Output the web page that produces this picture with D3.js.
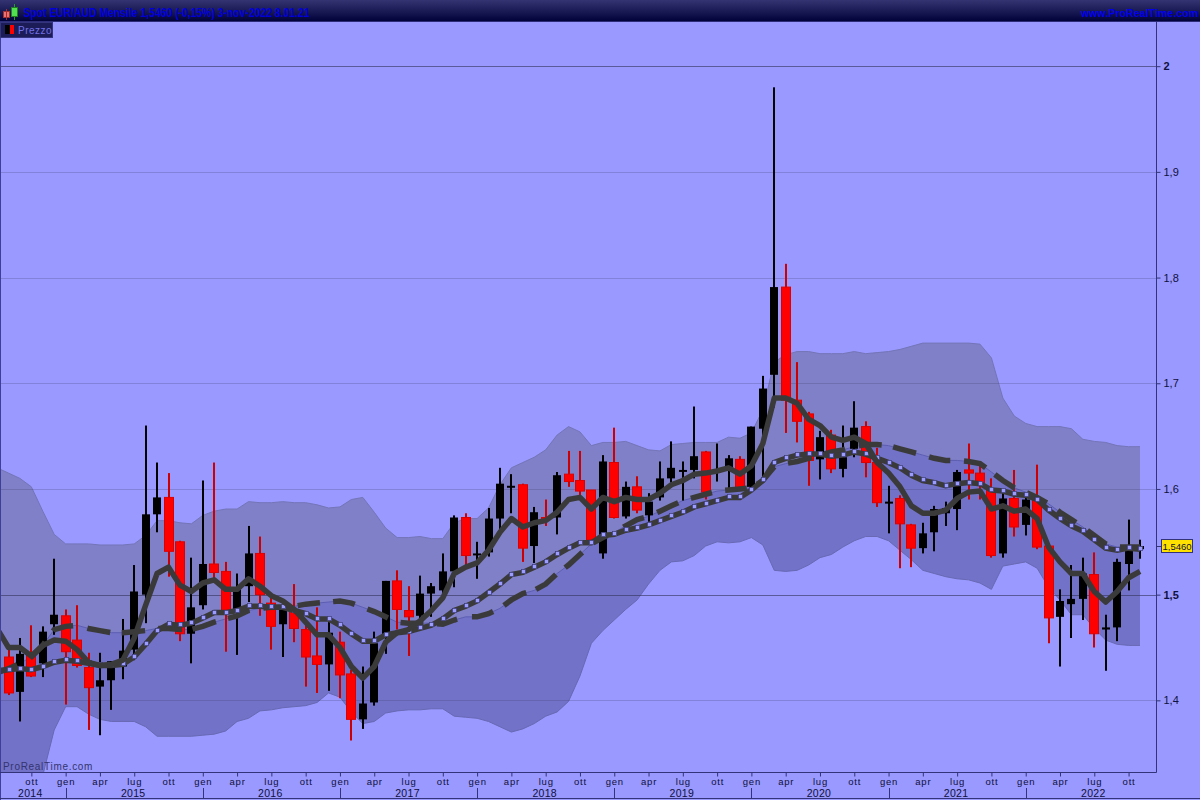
<!DOCTYPE html>
<html><head><meta charset="utf-8">
<script src="https://cdnjs.cloudflare.com/ajax/libs/d3/7.8.5/d3.min.js"></script>
<style>html,body{margin:0;padding:0;background:#9999ff;overflow:hidden}svg{display:block}text{font-family:"Liberation Sans",Arial,sans-serif}</style>
</head><body>
<script>
const opens=[1.441,1.408,1.443,1.435,1.472,1.480,1.457,1.431,1.413,1.419,1.432,1.448,1.500,1.576,1.592,1.550,1.463,1.490,1.529,1.522,1.485,1.508,1.539,1.492,1.472,1.484,1.467,1.442,1.434,1.455,1.425,1.382,1.398,1.460,1.513,1.485,1.480,1.501,1.504,1.522,1.573,1.538,1.540,1.572,1.602,1.604,1.546,1.573,1.573,1.614,1.608,1.599,1.539,1.625,1.574,1.602,1.575,1.592,1.610,1.617,1.618,1.635,1.616,1.618,1.628,1.602,1.657,1.708,1.791,1.684,1.671,1.628,1.651,1.619,1.638,1.659,1.625,1.587,1.591,1.566,1.544,1.559,1.577,1.581,1.618,1.615,1.599,1.539,1.591,1.566,1.590,1.546,1.479,1.491,1.496,1.519,1.467,1.469,1.529,1.543];
const closes=[1.407,1.444,1.423,1.465,1.481,1.446,1.433,1.412,1.419,1.437,1.447,1.503,1.576,1.592,1.541,1.463,1.488,1.529,1.521,1.484,1.506,1.539,1.500,1.470,1.487,1.468,1.441,1.434,1.464,1.424,1.382,1.397,1.454,1.513,1.486,1.479,1.501,1.508,1.522,1.573,1.537,1.539,1.572,1.605,1.603,1.544,1.578,1.572,1.613,1.607,1.598,1.552,1.626,1.573,1.602,1.580,1.588,1.610,1.620,1.618,1.631,1.597,1.618,1.629,1.601,1.659,1.695,1.791,1.684,1.664,1.627,1.649,1.619,1.630,1.658,1.625,1.587,1.588,1.567,1.544,1.558,1.581,1.582,1.616,1.615,1.606,1.537,1.591,1.564,1.590,1.545,1.478,1.494,1.496,1.520,1.463,1.469,1.531,1.547,1.546];
const highs=[1.449,1.459,1.471,1.470,1.534,1.486,1.490,1.445,1.445,1.437,1.477,1.528,1.660,1.625,1.615,1.551,1.535,1.608,1.625,1.531,1.520,1.565,1.555,1.499,1.495,1.510,1.474,1.488,1.474,1.465,1.429,1.432,1.465,1.513,1.523,1.508,1.518,1.511,1.539,1.575,1.577,1.550,1.582,1.620,1.614,1.605,1.583,1.590,1.616,1.636,1.636,1.599,1.632,1.658,1.607,1.612,1.596,1.626,1.645,1.626,1.678,1.636,1.643,1.632,1.631,1.659,1.707,1.980,1.813,1.720,1.673,1.655,1.656,1.660,1.683,1.664,1.639,1.603,1.594,1.567,1.568,1.584,1.588,1.618,1.643,1.622,1.610,1.596,1.618,1.594,1.623,1.547,1.505,1.528,1.535,1.540,1.481,1.534,1.571,1.552];
const lows=[1.405,1.380,1.422,1.422,1.462,1.396,1.431,1.372,1.367,1.391,1.420,1.438,1.473,1.559,1.517,1.456,1.435,1.486,1.511,1.446,1.443,1.493,1.480,1.448,1.441,1.455,1.413,1.407,1.409,1.402,1.362,1.373,1.395,1.444,1.467,1.442,1.473,1.479,1.495,1.507,1.527,1.515,1.536,1.561,1.577,1.531,1.530,1.565,1.557,1.602,1.593,1.549,1.534,1.572,1.572,1.577,1.569,1.589,1.606,1.589,1.610,1.590,1.607,1.600,1.599,1.599,1.606,1.677,1.653,1.644,1.603,1.609,1.615,1.611,1.630,1.611,1.583,1.558,1.525,1.526,1.539,1.541,1.565,1.561,1.590,1.590,1.535,1.535,1.555,1.556,1.543,1.454,1.432,1.459,1.476,1.450,1.428,1.456,1.504,1.534];

// Overlay series start one month before the first visible candle.
const fastAvg=[1.468,1.450,1.450,1.442,1.452,1.457,1.456,1.448,1.436,1.433,1.434,1.438,1.459,1.490,1.520,1.526,1.509,1.503,1.511,1.514,1.505,1.505,1.515,1.508,1.499,1.494,1.486,1.474,1.462,1.462,1.450,1.432,1.421,1.432,1.455,1.464,1.467,1.475,1.485,1.497,1.520,1.526,1.530,1.542,1.559,1.572,1.564,1.568,1.570,1.578,1.590,1.592,1.581,1.592,1.588,1.592,1.590,1.590,1.596,1.604,1.608,1.614,1.615,1.617,1.620,1.614,1.622,1.643,1.686,1.686,1.681,1.666,1.660,1.649,1.646,1.649,1.643,1.625,1.615,1.602,1.584,1.577,1.577,1.580,1.591,1.597,1.598,1.581,1.584,1.579,1.581,1.572,1.545,1.531,1.520,1.520,1.503,1.493,1.503,1.516,1.522];
const midAvg=[1.428,1.429,1.430,1.429,1.432,1.436,1.438,1.437,1.435,1.433,1.433,1.434,1.441,1.453,1.466,1.472,1.471,1.473,1.478,1.483,1.483,1.485,1.489,1.489,1.488,1.488,1.485,1.482,1.477,1.477,1.471,1.463,1.456,1.456,1.462,1.464,1.465,1.468,1.471,1.477,1.485,1.489,1.494,1.502,1.510,1.519,1.521,1.526,1.531,1.538,1.544,1.549,1.549,1.556,1.557,1.561,1.563,1.566,1.570,1.574,1.578,1.583,1.586,1.589,1.592,1.592,1.599,1.608,1.625,1.629,1.632,1.633,1.633,1.631,1.632,1.635,1.633,1.629,1.625,1.620,1.613,1.608,1.606,1.603,1.605,1.606,1.605,1.599,1.598,1.595,1.594,1.590,1.580,1.572,1.565,1.560,1.552,1.544,1.542,1.544,1.543];
const slowAvg=[1.426,1.430,1.435,1.441,1.452,1.467,1.470,1.471,1.468,1.466,1.464,1.464,1.465,1.466,1.468,1.468,1.467,1.467,1.470,1.474,1.477,1.480,1.485,1.487,1.488,1.488,1.489,1.491,1.492,1.493,1.494,1.492,1.488,1.484,1.479,1.474,1.473,1.473,1.473,1.472,1.476,1.479,1.479,1.482,1.487,1.495,1.501,1.504,1.510,1.520,1.528,1.538,1.548,1.554,1.559,1.565,1.571,1.574,1.579,1.584,1.589,1.592,1.595,1.598,1.599,1.600,1.601,1.608,1.621,1.624,1.626,1.629,1.632,1.635,1.637,1.640,1.642,1.642,1.641,1.638,1.635,1.632,1.629,1.627,1.627,1.626,1.624,1.616,1.608,1.601,1.597,1.592,1.586,1.578,1.571,1.564,1.556,1.548,1.545,1.545,1.545];
const upperBand=[1.620,1.615,1.610,1.602,1.579,1.557,1.548,1.548,1.548,1.547,1.547,1.547,1.548,1.556,1.570,1.570,1.568,1.567,1.575,1.579,1.581,1.581,1.588,1.587,1.587,1.588,1.587,1.587,1.585,1.582,1.583,1.590,1.592,1.578,1.563,1.554,1.554,1.555,1.553,1.553,1.568,1.572,1.572,1.582,1.604,1.620,1.625,1.630,1.637,1.651,1.659,1.654,1.641,1.644,1.644,1.645,1.641,1.637,1.636,1.642,1.643,1.644,1.644,1.644,1.649,1.648,1.653,1.675,1.720,1.727,1.730,1.730,1.728,1.728,1.728,1.730,1.728,1.729,1.730,1.732,1.735,1.738,1.738,1.738,1.738,1.738,1.737,1.724,1.686,1.669,1.662,1.659,1.659,1.659,1.657,1.647,1.645,1.644,1.641,1.640,1.640];
const lowerBand=[1.287,1.292,1.296,1.301,1.329,1.372,1.394,1.394,1.387,1.382,1.380,1.380,1.380,1.375,1.366,1.366,1.366,1.366,1.367,1.368,1.371,1.380,1.383,1.390,1.391,1.393,1.394,1.395,1.398,1.407,1.403,1.389,1.378,1.380,1.388,1.390,1.391,1.391,1.392,1.392,1.385,1.384,1.383,1.380,1.375,1.370,1.373,1.378,1.385,1.389,1.399,1.423,1.454,1.466,1.476,1.486,1.495,1.510,1.523,1.531,1.532,1.537,1.546,1.550,1.549,1.550,1.554,1.547,1.523,1.522,1.523,1.528,1.535,1.538,1.545,1.551,1.555,1.555,1.551,1.542,1.533,1.523,1.520,1.517,1.515,1.514,1.511,1.505,1.527,1.529,1.531,1.525,1.507,1.495,1.481,1.481,1.468,1.457,1.453,1.452,1.452];
// Month positions (candle numbers) where each dash of the slow average begins and ends.
const dashFrom=[-1,1.9,3.9,6.9,9.9,13.1,16.1,19.2,22.3,25.3,28.4,31.4,34.3,37.5,40.55,43.35,46.15,48.7,51.15,53.8,56.75,59.7,62.7,65.5,68.2,71.4,74.4,77.4,80.55,83.6,86.3,89.1,91.8,94.4,97.25];
const dashTo=[0.75,3.2,5.65,8.9,11.95,15.2,18.15,21.1,24.2,27.25,30.3,33.2,36.3,39.25,42.4,45.3,47.9,50.2,52.4,55.6,58.6,61.55,64.6,67.05,70.3,73.2,76.4,79.4,82.4,85.5,88.05,90.85,93.4,96.1,99];

const priceTicks=[1.4,1.5,1.6,1.7,1.8,1.9,2];
const strongTicks=[1.5,2];
const monthTicks=d3.range(2,99,3);
const monthNames=["gen","apr","lug","ott"];
const yearLabels=["2014","2015","2016","2017","2018","2019","2020","2021","2022"];
const yearLabelAt=[2,11,23,35,47,59,71,83,95];
const yearBreaks=[5,17,29,41,53,65,77,89];
const lastPrice=1.546;
const titleText="Spot EUR/AUD Mensile 1,5460 (-0,15%) 3-nov-2022 8.01.21";
const siteText="www.ProRealTime.com";
const legendText="Prezzo";

const W=1200,H=800,axisX=1156.5,axisY=772.5,plotTop=22;
const x=d3.scaleLinear().domain([0,99]).range([8.5,1140]);
const y=d3.scaleLinear().domain([1.3322,2.0418]).range([772,22]);
const svg=d3.select("body").append("svg").attr("width",W).attr("height",H);
const defs=svg.append("defs");
const g=defs.append("linearGradient").attr("id","hd").attr("x1",0).attr("x2",0).attr("y1",0).attr("y2",1);
g.append("stop").attr("offset",0).attr("stop-color","#343472");
g.append("stop").attr("offset",1).attr("stop-color","#02023a");
defs.append("clipPath").attr("id","plot").append("rect").attr("x",1).attr("y",plotTop).attr("width",axisX-1).attr("height",axisY-plotTop);

svg.append("rect").attr("width",W).attr("height",H).attr("fill","#9999ff");
const plot=svg.append("g").attr("clip-path","url(#plot)");
const overlay=a=>a.map((v,i)=>[x(i-1),y(v)]);

// bands
const upPts=overlay(upperBand),slowPts=overlay(slowAvg),lowPts=overlay(lowerBand);
const area=(a,b)=>d3.area().x((d,i)=>a[i][0]).y0((d,i)=>a[i][1]).y1((d,i)=>b[i][1])(a);
plot.append("path").attr("d",area(upPts,slowPts)).attr("fill","#8080c8");
plot.append("path").attr("d",area(slowPts,lowPts)).attr("fill","#7272c8");
const ln=d3.line();
plot.append("path").attr("d",ln(upPts)).attr("fill","none").attr("stroke","#7474b8").attr("stroke-width",1);
plot.append("path").attr("d",ln(lowPts)).attr("fill","none").attr("stroke","#6868b4").attr("stroke-width",1);
plot.append("path").attr("d",ln(slowPts)).attr("fill","none").attr("stroke","#5c5cb0").attr("stroke-width",1);

// grid
plot.selectAll("line.grid").data(priceTicks).join("line").attr("class","grid")
 .attr("x1",0).attr("x2",axisX).attr("y1",d=>Math.round(y(d))+.5).attr("y2",d=>Math.round(y(d))+.5)
 .attr("stroke","#33335c").attr("stroke-opacity",d=>strongTicks.includes(d)?.62:.22).attr("stroke-width",1);

// candles
const candles=opens.map((o,i)=>({i,o,c:closes[i],h:highs[i],l:lows[i],up:closes[i]>=o}));
plot.selectAll("rect.wick").data(candles).join("rect").attr("class","wick")
 .attr("x",d=>Math.round(x(d.i))-1).attr("width",2)
 .attr("y",d=>y(d.h)).attr("height",d=>y(d.l)-y(d.h))
 .attr("fill",d=>d.up?"#000":"#cc0000");
plot.selectAll("rect.body").data(candles).join("rect").attr("class","body")
 .attr("x",d=>Math.round(x(d.i))-(d.up?4:4.5)).attr("width",d=>d.up?8:9)
 .attr("y",d=>y(Math.max(d.o,d.c))).attr("height",d=>Math.max(2,Math.abs(y(d.o)-y(d.c))))
 .attr("fill",d=>d.up?"#000":"#ff0000").attr("stroke",d=>d.up?"none":"#dd0000").attr("stroke-width",1);

// moving averages
const dark="#3a3a3a";
const slowAt=t=>{const k=t+1,a=Math.min(Math.floor(k),slowAvg.length-2),f=k-a;
  return [x(t),y(slowAvg[a]+(slowAvg[a+1]-slowAvg[a])*f)];};
const dashes=dashFrom.map((from,n)=>{const to=dashTo[n];
  const inner=d3.range(Math.ceil(from),Math.floor(to)+1).filter(t=>t>from&&t<to);
  return [from,...inner,to].map(slowAt);});
plot.selectAll("path.dash").data(dashes).join("path").attr("class","dash").attr("d",ln)
 .attr("fill","none").attr("stroke",dark).attr("stroke-width",5.5);
const midPts=overlay(midAvg);
plot.append("path").attr("d",ln(midPts)).attr("fill","none").attr("stroke",dark).attr("stroke-width",5.5);
plot.selectAll("rect.mk").data(midPts.slice(1)).join("rect").attr("class","mk")
 .attr("x",d=>Math.round(d[0])-1.65).attr("y",d=>Math.round(d[1])-2.65).attr("width",4.3).attr("height",4.3)
 .attr("fill","#9c9cff").attr("stroke","#3b3b78").attr("stroke-width",.7);
plot.append("path").attr("d",ln(overlay(fastAvg))).attr("fill","none").attr("stroke",dark).attr("stroke-width",5.5).attr("stroke-linejoin","round");

// frame and axes
const frame="#33337a";
svg.append("rect").attr("x",0).attr("y",plotTop).attr("width",1).attr("height",H-plotTop).attr("fill","#3f3f9a");
const yAxis=d3.axisRight(y).tickValues(priceTicks).tickSize(4).tickPadding(3).tickFormat(d=>String(d).replace(".",","));
const ya=svg.append("g").attr("transform",`translate(${axisX},0)`).call(yAxis);
ya.select(".domain").attr("d",`M0,${plotTop}V${axisY}`).attr("stroke",frame);
ya.selectAll(".tick line").attr("stroke",frame);
ya.selectAll(".tick text").attr("fill","#10103c").attr("font-size",11)
 .attr("font-weight",d=>strongTicks.includes(d)?"bold":"normal");

const xAxis=d3.axisBottom(x).tickValues(monthTicks).tickSize(4).tickPadding(2)
 .tickFormat(d=>monthNames[((d-5)%12+12)%12/3]);
const xa=svg.append("g").attr("transform",`translate(0,${axisY})`).call(xAxis);
xa.select(".domain").attr("d",`M0,0H${axisX}`).attr("stroke",frame);
xa.selectAll(".tick line").attr("stroke",frame);
xa.selectAll(".tick text").attr("fill","#10103c").attr("font-size",9.5).attr("letter-spacing",.8);

svg.append("line").attr("x1",0).attr("x2",W).attr("y1",798.5).attr("y2",798.5).attr("stroke",frame);
svg.selectAll("line.yr").data(yearBreaks).join("line").attr("class","yr")
 .attr("x1",d=>Math.round(x(d))+.5).attr("x2",d=>Math.round(x(d))+.5).attr("y1",788).attr("y2",798).attr("stroke",frame);
svg.selectAll("text.yr").data(yearLabels).join("text").attr("class","yr")
 .attr("x",(d,i)=>x(yearLabelAt[i])-1).attr("y",797).attr("text-anchor","middle")
 .attr("font-size",10.5).attr("fill","#10103c").attr("letter-spacing",.3).text(d=>d);

svg.append("text").attr("x",3).attr("y",770).attr("font-size",10).attr("letter-spacing",.7)
 .attr("fill","#34346e").text("ProRealTime.com");

// last price tag
const ly=Math.round(y(lastPrice));
svg.append("line").attr("x1",axisX).attr("x2",1161).attr("y1",ly+.5).attr("y2",ly+.5).attr("stroke",frame);
svg.append("rect").attr("x",1161.5).attr("y",ly-6.5).attr("width",31).attr("height",13).attr("fill","#ffe100").attr("stroke","#33337a");
svg.append("text").attr("x",1177).attr("y",ly+4).attr("text-anchor","middle").attr("font-size",9.5).attr("fill","#10103c").text("1,5460");

// header
svg.append("rect").attr("width",W).attr("height",21).attr("fill","url(#hd)");
svg.append("rect").attr("y",21).attr("width",W).attr("height",1).attr("fill","#2c2c78");
svg.append("text").attr("x",23.5).attr("y",17).attr("font-size",12.5).attr("font-weight","bold").attr("fill","#0000dd")
 .attr("textLength",286).attr("lengthAdjust","spacingAndGlyphs").text(titleText);
svg.append("text").attr("x",1081).attr("y",17).attr("font-size",10.5).attr("font-weight","bold").attr("fill","#0000ee")
 .attr("letter-spacing",.1).text(siteText);
svg.append("rect").attr("x",3.5).attr("y",11.5).attr("width",6).attr("height",6).attr("fill","#f07070").attr("stroke","#a03030");
svg.append("rect").attr("x",6).attr("y",9).attr("width",1).attr("height",11).attr("fill","#a03030");
svg.append("rect").attr("x",14).attr("y",4).attr("width",1).attr("height",16).attr("fill","#20a020");
svg.append("rect").attr("x",11.5).attr("y",7.5).attr("width",6).attr("height",9).attr("fill","#50e050").attr("stroke","#208020");

// legend
svg.append("rect").attr("x",.5).attr("y",22.5).attr("width",52).attr("height",15).attr("fill","#1c1c58").attr("stroke","#34347e");
svg.append("rect").attr("x",5).attr("y",25).attr("width",5).attr("height",9).attr("fill","#000");
svg.append("rect").attr("x",10).attr("y",25).attr("width",4).attr("height",9).attr("fill","#ff0000");
svg.append("text").attr("x",18).attr("y",34).attr("font-size",10).attr("letter-spacing",.5).attr("fill","#7272e6").text(legendText);
</script>
</body></html>
